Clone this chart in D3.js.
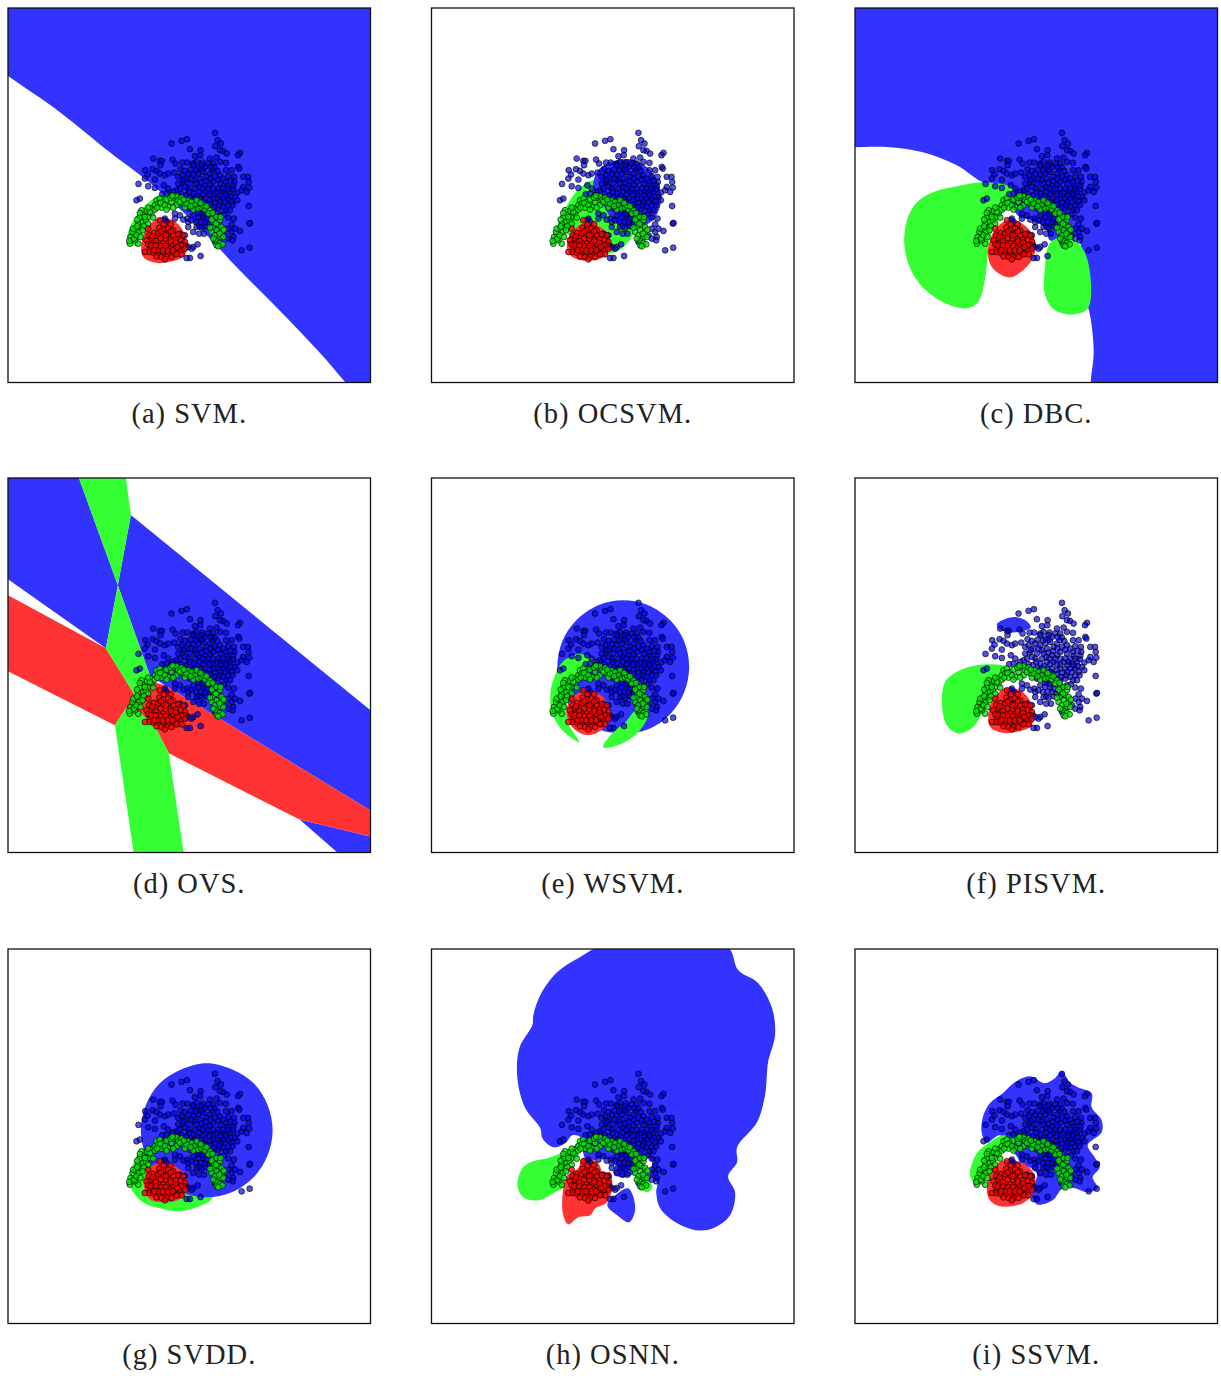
<!DOCTYPE html>
<html><head><meta charset="utf-8">
<script src="https://cdn.jsdelivr.net/npm/d3@7/dist/d3.min.js"></script>
<style>html,body{margin:0;padding:0;background:#fff}svg{display:block}</style>
</head><body><svg id="chart" width="1221" height="1376"></svg>
<script>
const captions=["(a) SVM.","(b) OCSVM.","(c) DBC.","(d) OVS.","(e) WSVM.","(f) PISVM.","(g) SVDD.","(h) OSNN.","(i) SSVM."];
const bluePoints=[[305,38],[313,60],[306,78],[323,70],[329,92],[320,90],[340,100],[380,98],[374,105],[175,70],[205,62],[221,57],[230,87],[262,90],[261,105],[245,108],[120,115],[140,122],[146,122],[178,118],[142,135],[187,130],[208,127],[222,127],[240,130],[250,125],[268,127],[275,140],[255,145],[240,135],[290,115],[310,112],[300,130],[320,125],[338,128],[375,140],[378,145],[355,150],[338,150],[320,165],[298,150],[290,160],[96,150],[118,147],[130,152],[103,163],[95,175],[125,178],[140,160],[155,165],[165,160],[183,157],[202,147],[205,165],[195,170],[208,187],[195,190],[225,160],[240,165],[255,160],[270,155],[280,170],[260,175],[245,180],[230,190],[225,205],[215,200],[76,191],[105,198],[125,203],[152,195],[165,205],[190,210],[180,215],[147,222],[160,220],[175,225],[390,170],[404,170],[406,185],[362,170],[363,185],[360,197],[338,185],[340,197],[320,190],[300,185],[290,195],[275,195],[258,200],[245,205],[240,220],[260,215],[280,215],[300,205],[310,215],[325,215],[335,220],[350,215],[372,217],[385,210],[390,200],[408,202],[400,215],[365,230],[372,240],[355,245],[345,235],[330,235],[315,235],[300,235],[290,240],[275,235],[260,235],[70,240],[80,235],[210,240],[225,250],[230,265],[240,255],[250,265],[260,275],[255,290],[270,290],[285,280],[300,270],[315,265],[330,260],[345,255],[358,255],[406,257],[362,295],[355,312],[345,325],[335,345],[345,355],[380,332],[408,310],[410,308],[360,350],[358,360],[305,365],[310,355],[385,390],[409,382],[262,407],[230,413],[220,413],[240,380],[253,372],[215,345],[200,340],[240,335],[258,340],[272,340],[250,320],[265,322],[280,318],[275,305],[290,310],[300,320],[155,295],[160,305],[185,280],[185,295],[200,285],[222,295],[225,305],[225,380],[235,385],[218,375],[205,385],[285,130],[265,135],[292,140],[305,142],[312,152],[265,148],[248,150],[232,148],[215,152],[218,175],[235,175],[250,190],[265,187],[278,182],[292,175],[305,170],[315,178],[330,175],[345,168],[352,182],[268,205],[285,205],[300,222],[290,222],[270,222],[252,228],[232,232],[218,225],[205,222],[195,230],[315,205],[330,205],[345,205],[358,207],[322,225],[340,225],[352,228],[335,245],[320,245],[305,248],[290,252],[275,250],[262,252],[248,245],[238,240],[318,255],[302,260],[285,265],[270,268],[255,278],[240,285],[268,280],[280,295],[262,305],[248,305],[235,300],[210,298],[295,300],[305,290],[320,285],[338,270],[350,270],[332,282],[345,292],[270,245],[212,180],[200,205],[228,215],[245,235],[355,335],[365,325],[152,300],[258,318],[225,320]];
const greenPoints=[[50,370],[55,358],[62,345],[52,350],[58,335],[68,325],[78,335],[75,370],[65,360],[85,320],[75,310],[90,305],[80,290],[90,280],[100,272],[105,290],[85,270],[98,300],[105,310],[115,265],[125,255],[115,280],[130,240],[140,235],[135,250],[145,262],[150,245],[160,238],[165,260],[175,245],[180,232],[190,228],[195,240],[205,232],[210,250],[190,255],[180,262],[215,262],[225,240],[235,245],[245,255],[240,268],[255,265],[265,262],[275,268],[290,270],[285,280],[300,290],[310,290],[300,305],[320,300],[315,315],[325,320],[300,320],[310,330],[295,335],[325,335],[305,345],[320,350],[330,350],[310,362],[320,368],[328,372],[310,375],[62,355],[70,345],[82,350],[60,325],[92,318],[72,298],[95,290],[110,275],[125,268],[142,248],[155,255],[172,232],[200,245],[220,250],[250,240],[270,255],[295,298],[308,310],[318,340],[300,355],[48,362],[72,318],[88,330],[80,278],[105,262],[120,292],[132,262],[160,268],[178,226],[212,238],[232,258],[262,248],[280,258],[298,278],[322,290],[332,328],[290,322],[315,378]];
const redPoints=[[140,300],[105,325],[172,312],[152,312],[138,322],[150,328],[165,325],[180,330],[122,338],[108,345],[135,340],[150,342],[165,340],[180,345],[195,342],[210,345],[100,360],[115,355],[128,352],[142,355],[158,355],[172,357],[188,358],[203,360],[215,365],[105,372],[120,368],[135,368],[150,370],[165,370],[180,372],[195,372],[210,375],[110,385],[125,382],[140,385],[155,383],[170,385],[185,385],[200,388],[215,385],[108,395],[95,395],[120,397],[135,398],[150,397],[165,398],[180,398],[195,400],[130,408],[145,410],[160,410],[175,410],[190,402],[205,402],[155,417],[128,362],[143,377],[158,377],[173,363],[188,367],[113,375],[128,375],[203,375],[118,348],[158,345],[173,333],[143,333],[163,390],[148,390],[133,390],[178,390],[193,380],[123,390]];
const redBlob=[[150,210],[165,212],[175,222],[179,238],[176,248],[160,254],[145,254],[135,248],[134,232],[138,222]];
const arcBand=[[120,235],[122,219],[135,200],[152,187],[172,187],[176,195],[159,197],[144,204],[132,227],[130,237]];
const regionsA=[{c:"b",s:1,p:[[-30,47],[0,68],[52,104],[102,144],[135,169],[167,196],[199,227],[232,262],[272,302],[312,344],[338,374],[362,402],[420,402],[420,-40],[-30,-40]]},{c:"g",s:1,p:arcBand},{c:"r",s:1,p:redBlob}];
const regionsB=[{c:"g",s:1,p:[[162,172],[149,179],[137,195],[131,209],[134,222],[152,239],[179,245],[192,239],[202,225],[199,212],[179,192],[166,179]]},{c:"b",s:1,p:[[182,153],[199,151],[216,159],[227,175],[230,192],[224,209],[214,217],[199,220],[182,212],[171,195],[162,179],[167,162]]},{c:"r",s:1,p:[[150,216],[165,217],[177,226],[179,240],[170,250],[150,252],[138,246],[136,232]]}];
const regionsC=[{c:"b",s:1,p:[[-25,-25],[390,-25],[390,420],[238,420],[237,395],[236,374],[239,345],[236,310],[230,285],[222,229],[195,232],[192,222],[178,212],[165,209],[158,200],[152,185],[145,177],[128,174],[102,157],[68,144],[35,139],[0,139],[-25,140]]},{c:"g",s:1,p:[[128,174],[158,180],[158,189],[148,204],[135,229],[133,245],[130,272],[123,294],[110,300],[85,292],[62,272],[50,242],[52,212],[62,194],[78,184],[102,178]]},{c:"g",s:1,p:[[215,229],[227,239],[235,262],[233,300],[215,306],[198,300],[190,285],[190,262],[195,235],[205,229]]},{c:"r",s:1,p:[[160,212],[175,222],[181,237],[175,255],[155,269],[138,260],[133,245],[138,225],[148,214]]}];
const regionsD=[{c:"b",p:[[0,0],[71,0],[110,107],[98,170],[0,101]]},{c:"b",p:[[123,37],[363,232],[363,332],[157,207],[142,197],[110,107]]},{c:"b",p:[[292,341],[363,358],[363,375],[331,375]]},{c:"r",p:[[0,117],[98,170],[127,217],[143,203],[157,207],[363,332],[363,358],[292,341],[161,275],[147,248],[118,230],[107,247],[0,193]]},{c:"g",p:[[71,0],[118,0],[123,37],[110,107]]},{c:"g",p:[[110,107],[142,197],[127,217],[98,170]]},{c:"g",p:[[118,230],[107,247],[126,375],[176,375],[161,275],[147,248],[130,232]]}];
const regionsE=[{c:"b",s:1,p:[[192,122],[217,127],[239,142],[253,163],[258,189],[253,214],[239,236],[217,251],[192,255],[167,251],[145,236],[131,214],[126,189],[131,163],[145,142],[167,127]]},{c:"g",s:1,p:[[131,184],[146,176],[157,178],[164,184],[156,190],[142,200],[137,212],[135,227],[137,245],[148,264],[131,252],[121,235],[119,215],[123,199]]},{c:"g",s:1,p:[[216,240],[206,255],[189,266],[172,269],[181,255],[194,244],[205,232],[216,232]]},{c:"r",s:1,p:[[157,213],[171,218],[179,234],[172,250],[157,257],[142,250],[135,234],[142,218]]}];
const regionsF=[{c:"b",s:1,p:[[142,146],[150,141],[162,139],[172,143],[176,149],[168,153],[155,154],[145,151]]},{c:"g",s:1,p:[[110,190],[122,187],[138,186],[152,189],[143,200],[137,215],[125,239],[117,250],[103,255],[92,247],[87,225],[90,204],[98,196]]},{c:"r",s:1,p:redBlob}];
const regionsG=[{c:"g",s:1,p:[[135,201],[124,218],[123,238],[135,253],[152,259],[169,262],[189,258],[205,248],[185,228],[152,208]]},{c:"b",s:1,p:[[199,114],[224,120],[246,134],[260,156],[265,181],[260,206],[246,228],[224,243],[199,248],[174,243],[152,228],[138,206],[133,181],[138,156],[152,134],[174,120]]},{c:"r",s:1,p:[[150,214],[165,216],[178,226],[180,240],[172,250],[155,253],[142,250],[136,236],[139,222]]}];
const regionsH=[{c:"b",s:1,p:[[169,-2],[296,-2],[307,21],[327,34],[341,59],[344,86],[337,113],[336,123],[334,146],[326,173],[306,198],[306,213],[297,227],[304,243],[299,266],[282,279],[266,281],[246,274],[229,259],[225,243],[226,233],[219,226],[221,213],[216,209],[206,223],[189,228],[182,223],[184,213],[169,209],[156,213],[152,204],[149,188],[141,186],[134,194],[122,198],[111,189],[109,179],[94,159],[86,129],[88,99],[101,76],[102,66],[109,46],[126,23],[149,8]]},{c:"b",s:1,p:[[176,256],[184,246],[197,239],[204,259],[198,273],[186,266]]},{c:"g",s:1,p:[[151,188],[141,198],[119,208],[99,213],[91,219],[86,236],[92,248],[107,251],[122,244],[134,236],[132,223],[141,209],[152,199]]},{c:"g",s:1,p:[[206,226],[216,229],[221,238],[216,243],[207,236]]},{c:"r",s:1,p:[[151,209],[166,213],[172,223],[179,223],[181,236],[176,253],[164,259],[159,266],[147,268],[137,275],[132,266],[131,249],[136,226],[147,219]]}];
const regionsI=[{c:"b",s:1,p:[[207,122],[215,133],[223,138],[237,144],[237,158],[247,171],[247,183],[233,196],[240,208],[245,218],[238,228],[243,239],[233,243],[220,239],[208,239],[198,251],[182,255],[177,244],[182,224],[168,214],[152,194],[145,186],[132,193],[127,184],[128,168],[135,154],[148,144],[160,133],[175,127],[190,134],[200,129]]},{c:"g",s:1,p:[[148,186],[160,189],[143,208],[133,224],[123,236],[117,231],[115,224],[122,204],[135,193]]},{c:"r",s:1,p:[[152,211],[168,214],[180,226],[178,244],[168,254],[145,257],[135,251],[132,241],[135,224],[143,214]]}];
const panelRegions=[regionsA,regionsB,regionsC,regionsD,regionsE,regionsF,regionsG,regionsH,regionsI];
const lefts=[8,431.5,855],tops=[8,478,949];
const W=362.5,H=374.5;
const regionColor={b:"#3333ff",g:"#33ff33",r:"#ff3333"};
const xRegion=d3.scaleLinear().domain([0,363]).range([0,W]);
const yRegion=d3.scaleLinear().domain([0,374]).range([0,H]);
const xPoint=d3.scaleLinear().domain([-315,771]).range([0,W]);
const yPoint=d3.scaleLinear().domain([-336,786]).range([0,H]);
const lineLin=d3.line().x(d=>xRegion(d[0])).y(d=>yRegion(d[1])).curve(d3.curveLinearClosed);
const lineCur=d3.line().x(d=>xRegion(d[0])).y(d=>yRegion(d[1])).curve(d3.curveCatmullRomClosed.alpha(0.5));
const svg=d3.select("#chart");
panelRegions.forEach((regions,i)=>{
  const col=i%3,row=Math.floor(i/3);
  const g=svg.append("g").attr("transform",`translate(${lefts[col]},${tops[row]})`);
  svg.append("clipPath").attr("id","clip"+i).append("rect").attr("width",W).attr("height",H);
  const plot=g.append("g").attr("clip-path",`url(#clip${i})`);
  plot.selectAll("path").data(regions).join("path")
    .attr("d",d=>(d.s?lineCur:lineLin)(d.p)).attr("fill",d=>regionColor[d.c]);
  const dots=(data,fill)=>plot.append("g").selectAll("circle").data(data).join("circle")
    .attr("cx",d=>xPoint(d[0])).attr("cy",d=>yPoint(d[1])).attr("r",2.9)
    .attr("fill",fill).attr("stroke","rgba(0,0,0,0.65)").attr("stroke-width",1);
  dots(bluePoints,"rgba(0,0,225,0.68)");
  dots(greenPoints,"rgba(0,235,0,0.8)");
  dots(redPoints,"rgba(255,0,0,0.8)");
  g.append("rect").attr("width",W).attr("height",H).attr("fill","none").attr("stroke","#111").attr("stroke-width",1.3);
  g.append("text").attr("x",W/2).attr("y",H+40).attr("text-anchor","middle")
    .attr("font-family","'Liberation Serif',serif").attr("font-size",28.5).attr("letter-spacing",1).attr("fill","#222").text(captions[i]);
});
</script></body></html>
